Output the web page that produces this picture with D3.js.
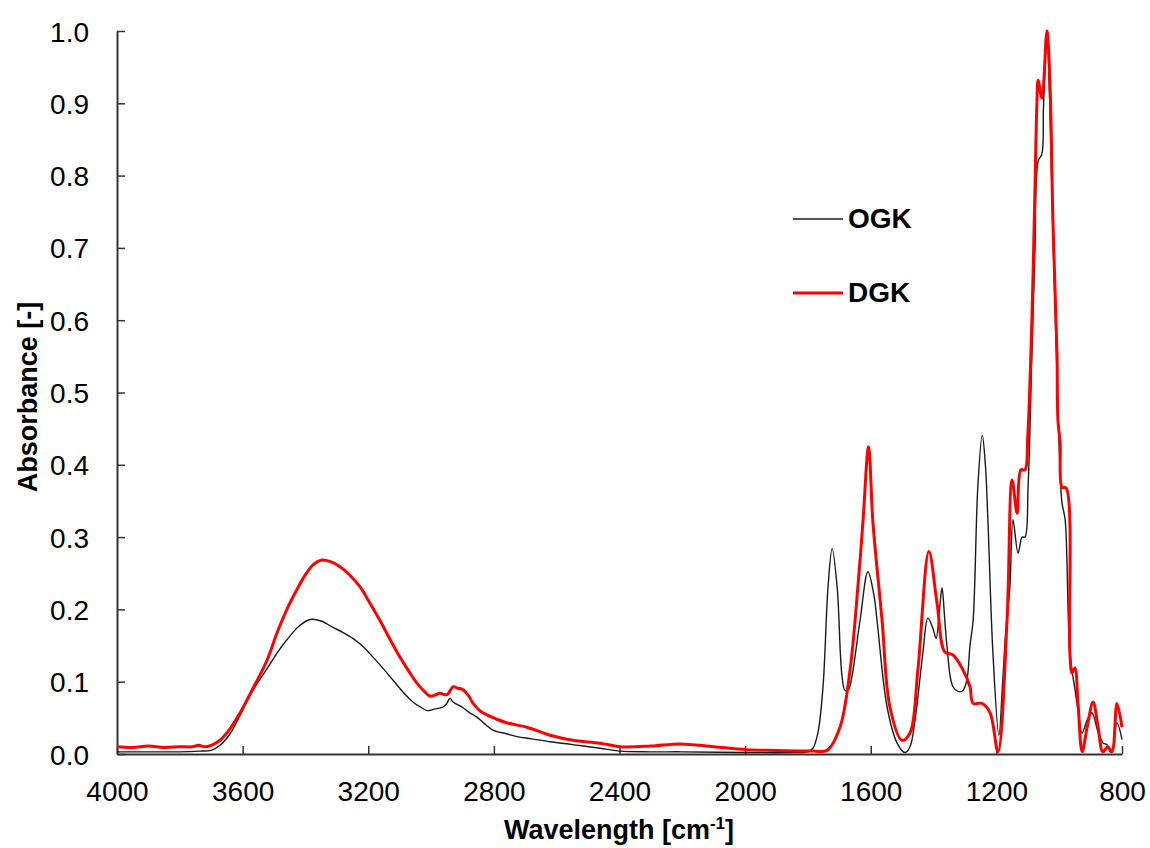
<!DOCTYPE html>
<html>
<head>
<meta charset="utf-8">
<script src="https://cdn.jsdelivr.net/npm/d3@7"></script>
<style>
  html, body { margin: 0; padding: 0; background: #fff; }
  svg text { font-family: "Liberation Sans", Arial, sans-serif; fill: #000; }
</style>
</head>
<body>
<svg id="chart" width="1150" height="848"></svg>
<script>
// FTIR spectra, wavenumber [cm-1] vs absorbance
var ogkWavenumber = [4000, 3900, 3800, 3736, 3700, 3672, 3640, 3610, 3580, 3550, 3522, 3490, 3459, 3420, 3385, 3350, 3312, 3280, 3249, 3220, 3185, 3150, 3121, 3090, 3058, 3030, 3013, 2990, 2962, 2950, 2940, 2930, 2898, 2880, 2854, 2830, 2803, 2760, 2726, 2680, 2621, 2550, 2462, 2400, 2300, 2200, 2000, 1850, 1800, 1784, 1768, 1752, 1736, 1723, 1707, 1692, 1682, 1670, 1660, 1634, 1609, 1590, 1580, 1548, 1516, 1491, 1475, 1459, 1434, 1418, 1403, 1392, 1380, 1373, 1365, 1357, 1338, 1316, 1306, 1294, 1284, 1274, 1259, 1245, 1235, 1227, 1211, 1192, 1180, 1170, 1157, 1147, 1131, 1118, 1109, 1099, 1087, 1077, 1067, 1055, 1050, 1039, 1030, 1020, 1008, 998, 991, 981, 966, 950, 940, 927, 911, 896, 876, 860, 848, 838, 832, 816, 800];
var ogkAbsorbance = [0.003, 0.003, 0.003, 0.004, 0.005, 0.012, 0.028, 0.052, 0.078, 0.100, 0.118, 0.140, 0.158, 0.177, 0.186, 0.184, 0.175, 0.168, 0.160, 0.150, 0.134, 0.117, 0.102, 0.086, 0.072, 0.064, 0.060, 0.062, 0.065, 0.070, 0.077, 0.072, 0.064, 0.058, 0.051, 0.042, 0.033, 0.028, 0.024, 0.021, 0.017, 0.013, 0.008, 0.004, 0.003, 0.003, 0.002, 0.002, 0.003, 0.008, 0.03, 0.093, 0.231, 0.284, 0.231, 0.11, 0.088, 0.09, 0.107, 0.185, 0.252, 0.22, 0.185, 0.065, 0.015, 0.002, 0.01, 0.047, 0.14, 0.188, 0.175, 0.16, 0.205, 0.23, 0.19, 0.148, 0.093, 0.086, 0.088, 0.102, 0.15, 0.185, 0.37, 0.441, 0.40, 0.324, 0.14, 0.026, 0.1, 0.17, 0.231, 0.324, 0.278, 0.30, 0.30, 0.37, 0.55, 0.70, 0.82, 0.83, 0.895, 0.995, 0.90, 0.72, 0.54, 0.40, 0.347, 0.324, 0.14, 0.09, 0.06, 0.029, 0.047, 0.057, 0.03, 0.015, 0.013, 0.003, 0.003, 0.043, 0.02];

var dgkWavenumber = [4000, 3950, 3900, 3850, 3800, 3760, 3740, 3720, 3700, 3672, 3640, 3608, 3580, 3550, 3522, 3490, 3459, 3430, 3400, 3375, 3350, 3320, 3290, 3260, 3226, 3195, 3163, 3130, 3099, 3070, 3045, 3020, 3003, 2985, 2972, 2949, 2930, 2915, 2898, 2880, 2866, 2845, 2822, 2790, 2758, 2695, 2621, 2548, 2462, 2398, 2300, 2207, 2100, 1994, 1900, 1784, 1739, 1698, 1666, 1641, 1625, 1607, 1593, 1564, 1539, 1501, 1475, 1450, 1415, 1389, 1364, 1338, 1306, 1284, 1274, 1246, 1220, 1195, 1166, 1150, 1134, 1122, 1109, 1100, 1087, 1077, 1071, 1067, 1055, 1039, 1029, 1020, 1007, 1004, 997, 991, 978, 966, 959, 950, 940, 927, 911, 892, 876, 861, 845, 832, 816, 800];
var dgkAbsorbance = [0.010, 0.009, 0.011, 0.009, 0.010, 0.010, 0.012, 0.010, 0.012, 0.019, 0.035, 0.057, 0.080, 0.105, 0.13, 0.168, 0.200, 0.225, 0.248, 0.262, 0.268, 0.266, 0.259, 0.248, 0.231, 0.209, 0.185, 0.158, 0.134, 0.114, 0.098, 0.086, 0.080, 0.082, 0.084, 0.082, 0.093, 0.091, 0.089, 0.080, 0.070, 0.060, 0.054, 0.048, 0.043, 0.037, 0.026, 0.019, 0.015, 0.010, 0.011, 0.014, 0.010, 0.006, 0.005, 0.004, 0.005, 0.037, 0.116, 0.231, 0.32, 0.425, 0.32, 0.185, 0.065, 0.019, 0.029, 0.116, 0.28, 0.209, 0.141, 0.137, 0.116, 0.093, 0.07, 0.07, 0.057, 0.003, 0.185, 0.379, 0.333, 0.393, 0.393, 0.44, 0.60, 0.784, 0.90, 0.932, 0.907, 1.0, 0.922, 0.739, 0.555, 0.462, 0.43, 0.369, 0.368, 0.14, 0.112, 0.119, 0.07, 0.003, 0.037, 0.072, 0.037, 0.003, 0.01, 0.003, 0.07, 0.037];

var xTicks = [4000, 3600, 3200, 2800, 2400, 2000, 1600, 1200, 800];
var yTicks = [0, 0.1, 0.2, 0.3, 0.4, 0.5, 0.6, 0.7, 0.8, 0.9, 1.0];
var seriesNames = ["OGK", "DGK"];

var svg = d3.select("#chart");

var x = d3.scaleLinear().domain([4000, 800]).range([117, 1122]);
var y = d3.scaleLinear().domain([0, 1]).range([754, 31]);

// axes, ticks pointing into the plot
var xAxis = d3.axisBottom(x).tickValues(xTicks).tickSize(-8).tickFormat(d3.format("d")).tickSizeOuter(0);
var yAxis = d3.axisLeft(y).tickValues(yTicks).tickSize(-8).tickFormat(d3.format(".1f")).tickSizeOuter(0);

var gx = svg.append("g").attr("transform", "translate(0,754)").call(xAxis);
var gy = svg.append("g").attr("transform", "translate(117,0)").call(yAxis);

[gx, gy].forEach(function(g) {
    g.select(".domain").attr("stroke", "#333").attr("stroke-width", 2);
    g.selectAll(".tick line").attr("stroke", "#333").attr("stroke-width", 1.5);
    g.selectAll(".tick text")
        .attr("font-family", "Liberation Sans, Arial, sans-serif")
        .attr("font-size", 28)
        .attr("fill", "#000");
});
gx.selectAll(".tick text").attr("y", 0).attr("dy", 0).attr("transform", "translate(0,47)");
gy.selectAll(".tick text").attr("x", -28).attr("dy", "0.36em");

// spectra, clipped to the plot so spline overshoot stays above the axis
svg.append("clipPath").attr("id", "plotArea")
    .append("rect").attr("x", 117).attr("y", 0).attr("width", 1010).attr("height", 754);

var line = d3.line()
    .x(function(d) { return x(d[0]); })
    .y(function(d) { return y(d[1]); })
    .curve(d3.curveCatmullRom.alpha(0.5));

var ogk = d3.zip(ogkWavenumber, ogkAbsorbance);
var dgk = d3.zip(dgkWavenumber, dgkAbsorbance);

var plot = svg.append("g").attr("clip-path", "url(#plotArea)");

plot.append("path").datum(ogk)
    .attr("d", line).attr("fill", "none")
    .attr("stroke", "#1a1a1a").attr("stroke-width", 1.4);

plot.append("path").datum(dgk)
    .attr("d", line).attr("fill", "none")
    .attr("stroke", "#ff0000").attr("stroke-width", 3);

// legend
var legendColors = ["#1a1a1a", "#ff0000"];
var legendWidths = [1.4, 3];
seriesNames.forEach(function(name, i) {
    var ly = 219 + i * 74;
    svg.append("line")
        .attr("x1", 793).attr("x2", 843).attr("y1", ly).attr("y2", ly)
        .attr("stroke", legendColors[i]).attr("stroke-width", legendWidths[i]);
    svg.append("text")
        .attr("x", 848).attr("y", ly + 9)
        .attr("font-size", 28).attr("font-weight", "bold")
        .text(name);
});

// axis titles
var xt = svg.append("text")
    .attr("x", 619).attr("y", 839)
    .attr("text-anchor", "middle")
    .attr("font-size", 27).attr("font-weight", "bold");
xt.append("tspan").text("Wavelength [cm");
xt.append("tspan").attr("font-size", 17).attr("dy", -10).text("-1");
xt.append("tspan").attr("dy", 10).text("]");

svg.append("text")
    .attr("transform", "translate(37,397) rotate(-90)")
    .attr("text-anchor", "middle")
    .attr("font-size", 27).attr("font-weight", "bold")
    .text("Absorbance [-]");
</script>
</body>
</html>
